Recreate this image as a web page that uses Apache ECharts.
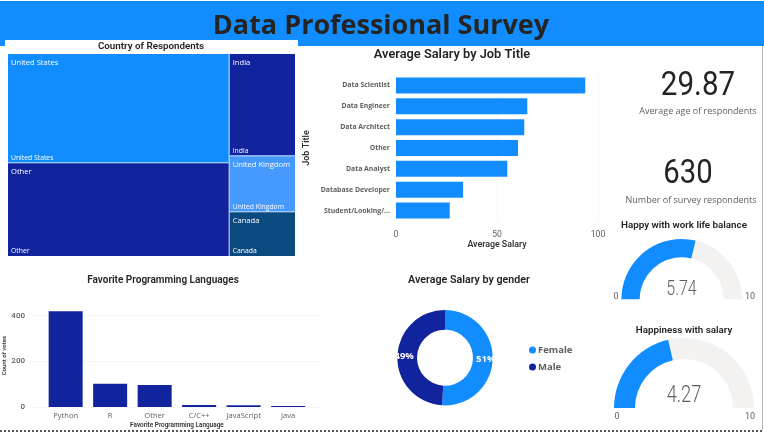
<!DOCTYPE html>
<html><head><meta charset="utf-8">
<style>html,body{margin:0;padding:0;background:#fff}#c{width:764px;height:433px}</style>
<script src="https://cdn.jsdelivr.net/npm/echarts@6/dist/echarts.min.js"></script>
</head><body><div id="c"></div>
<script>
const countries = ['United States','Other','India','United Kingdom','Canada'];
const countryValues = [261,224,73,40,32];
const countryColors = ['#118DFF','#12239E','#12239E','#4599FF','#0B4A7F'];
const jobTitles = ['Data Scientist','Data Engineer','Data Architect','Other','Data Analyst','Database Developer','Student/Looking/...'];
const jobSalaries = [93.7,65,63.5,60.4,55.1,33.2,26.6];
const languages = ['Python','R','Other','C/C++','JavaScript','Java'];
const languageVotes = [420,102,96,9,8,4];
const genders = ['Female','Male'];
const genderSalaries = [51,49];
const genderColors = ['#118DFF','#12239E'];
const averageAge = 29.87;
const respondents = 630;
const workLifeHappiness = 5.74;
const salaryHappiness = 4.27;

const DIN = 'Roboto, sans-serif', UI = '"Open Sans", sans-serif';
function txt(text,x,y,font,fill,scaleX){
  return {type:'text',x,y,z:10,scaleX:scaleX||1,silent:true,style:{text:String(text),font,fill:fill||'#252423',align:'center',verticalAlign:'middle'}};
}
const treeBase = {
  type:'treemap',left:8,top:54,width:287,height:202,roam:false,nodeClick:false,
  breadcrumb:{show:false},animation:false,silent:true,
};
function gauge(value,cx,cy,r,w){
  return {type:'gauge',center:[cx,cy],radius:r,startAngle:180,endAngle:0,min:0,max:10,splitNumber:1,
    pointer:{show:false},axisTick:{show:false},splitLine:{show:false},axisLabel:{show:false},title:{show:false},detail:{show:false},
    axisLine:{roundCap:false,lineStyle:{width:w,color:[[value/10,'#118DFF'],[1,'#F3F2F1']]}},
    data:[{value}],animation:false,silent:true};
}
const axisNameStyle = (s)=>({fontFamily:DIN,fontWeight:600,fontSize:s,color:'#333'});
const option = {
  animation:false,
  graphic:[
    {type:'rect',z:-5,silent:true,shape:{x:0,y:1,width:764,height:45},style:{fill:'#118DFF'}},
    {type:'rect',z:-4,silent:true,shape:{x:5,y:40,width:293,height:14},style:{fill:'#fff'}},
    {type:'line',z:5,silent:true,shape:{x1:762.5,y1:46,x2:762.5,y2:430},style:{stroke:'#b5b5b5',lineWidth:1}},
    {type:'line',z:5,silent:true,shape:{x1:0,y1:431,x2:764,y2:431},style:{stroke:'#555',lineWidth:2,lineDash:[2,2]}},
    txt('Data Professional Survey',381,26,'bold 27px '+UI),
    txt('Country of Respondents',151,46.5,'600 9.8px '+DIN),
    txt('Average Salary by Job Title',452,55,'600 12.8px '+DIN),
    txt('Favorite Programming Languages',163,280,'600 10px '+DIN),
    txt('Average Salary by gender',469,280,'600 10.7px '+DIN),
    txt('Happy with work life balance',684,226,'600 9.8px '+DIN),
    txt('Happiness with salary',684,331,'600 9.8px '+DIN),
    txt(averageAge.toFixed(2),698,86,'34px '+DIN,'#252423',0.87),
    txt('Average age of respondents',698,111,'9px '+UI,'#605E5C'),
    txt(respondents,688,174,'34px '+DIN,'#252423',0.86),
    txt('Number of survey respondents',691,200,'9px '+UI,'#605E5C'),
    txt(workLifeHappiness.toFixed(2),681.5,290,'300 19.5px '+DIN,'#605E5C',0.82),
    txt(salaryHappiness.toFixed(2),684,396,'300 24px '+DIN,'#605E5C',0.76),
    txt('0',616,297,'9px '+DIN,'#605E5C'),
    txt('10',750,297,'9px '+DIN,'#605E5C'),
    txt('0',617,417,'9px '+DIN,'#605E5C'),
    txt('10',750,417,'9px '+DIN,'#605E5C'),
  ],
  grid:[
    {left:396,top:75,width:202,height:146},
    {left:33,top:304.3,width:290,height:102.7},
    {left:43.4,top:304.3,width:267,height:102.7},
  ],
  xAxis:[
    {gridIndex:0,type:'value',min:0,max:100,interval:50,name:'Average Salary',nameLocation:'middle',nameGap:18,
      nameTextStyle:axisNameStyle(8.8),axisLine:{show:false},axisTick:{show:false},
      axisLabel:{fontFamily:DIN,fontSize:8.5,color:'#605E5C',margin:9},
      splitLine:{lineStyle:{type:'dotted',color:'#eeeeee'}}},
    {gridIndex:1,type:'category',show:false,data:languages},
    {gridIndex:2,type:'category',data:languages,name:'Favorite Programming Language',nameLocation:'middle',nameGap:15,
      nameTextStyle:axisNameStyle(6.4),axisLine:{show:false},axisTick:{show:false},
      axisLabel:{fontFamily:UI,fontSize:7.6,color:'#605E5C',margin:5,interval:0}},
  ],
  yAxis:[
    {gridIndex:0,type:'category',inverse:true,data:jobTitles,name:'Job Title',nameLocation:'middle',nameGap:85,
      nameTextStyle:axisNameStyle(9),axisLine:{show:false},axisTick:{show:false},
      axisLabel:{fontFamily:UI,fontWeight:700,fontSize:6.9,color:'#605E5C',margin:6,interval:0}},
    {gridIndex:1,type:'value',min:0,max:450,interval:200,name:'Count of votes',nameLocation:'middle',nameGap:26,
      nameTextStyle:axisNameStyle(6),axisLine:{show:false},axisTick:{show:false},
      axisLabel:{fontFamily:DIN,fontWeight:500,fontSize:8,color:'#605E5C',margin:8,showMaxLabel:false},
      splitLine:{showMaxLine:false,lineStyle:{type:'dotted',color:'#eeeeee'}}},
    {gridIndex:2,type:'value',show:false,min:0,max:450,interval:200,splitLine:{show:false}},
  ],
  legend:{orient:'vertical',left:524,top:340,itemWidth:7,itemHeight:7,itemGap:7,icon:'circle',data:genders,
    textStyle:{fontFamily:UI,fontWeight:700,fontSize:9.5,color:'#605E5C',padding:[0,0,0,-3]}},
  series:[
    Object.assign({},treeBase,{
      levels:[{itemStyle:{gapWidth:1,borderColor:'#8CC0FF',borderWidth:0}}],
      label:{show:true,position:'insideTopLeft',color:'#fff',fontFamily:UI,fontSize:7.6,padding:[5,3,1,3],overflow:'none'},
      data:countries.map((name,i)=>({name,value:countryValues[i],itemStyle:{color:countryColors[i]}})),
    }),
    Object.assign({},treeBase,{
      levels:[{itemStyle:{gapWidth:1,borderColor:'transparent',borderWidth:0}}],
      label:{show:true,position:'insideBottomLeft',color:'#fff',fontFamily:UI,fontSize:6.8,padding:[1,3,1,3],overflow:'none'},
      data:countries.map((name,i)=>({name,value:countryValues[i],itemStyle:{color:'transparent'}})),
    }),
    {type:'bar',xAxisIndex:0,yAxisIndex:0,data:jobSalaries,barWidth:16,itemStyle:{color:'#118DFF'}},
    {type:'bar',xAxisIndex:2,yAxisIndex:2,data:languageVotes,barWidth:34,itemStyle:{color:'#12239E'}},
    {type:'pie',center:[445,357.7],radius:[28,47.7],startAngle:90,clockwise:true,silent:true,
      data:genders.map((name,i)=>({name,value:genderSalaries[i],itemStyle:{color:genderColors[i]}})),
      label:{show:true,position:'inside',color:'#fff',fontFamily:UI,fontWeight:700,fontSize:9.5,
        formatter:p=>Math.round(p.percent)+'%'},
      labelLine:{show:false}},
    gauge(workLifeHappiness,681.7,299.3,60.3,18.3),
    gauge(salaryHappiness,684,408,70,21),
  ],
};
const chart = echarts.init(document.getElementById('c'),null,{renderer:'canvas'});
chart.setOption(option);
</script></body></html>
